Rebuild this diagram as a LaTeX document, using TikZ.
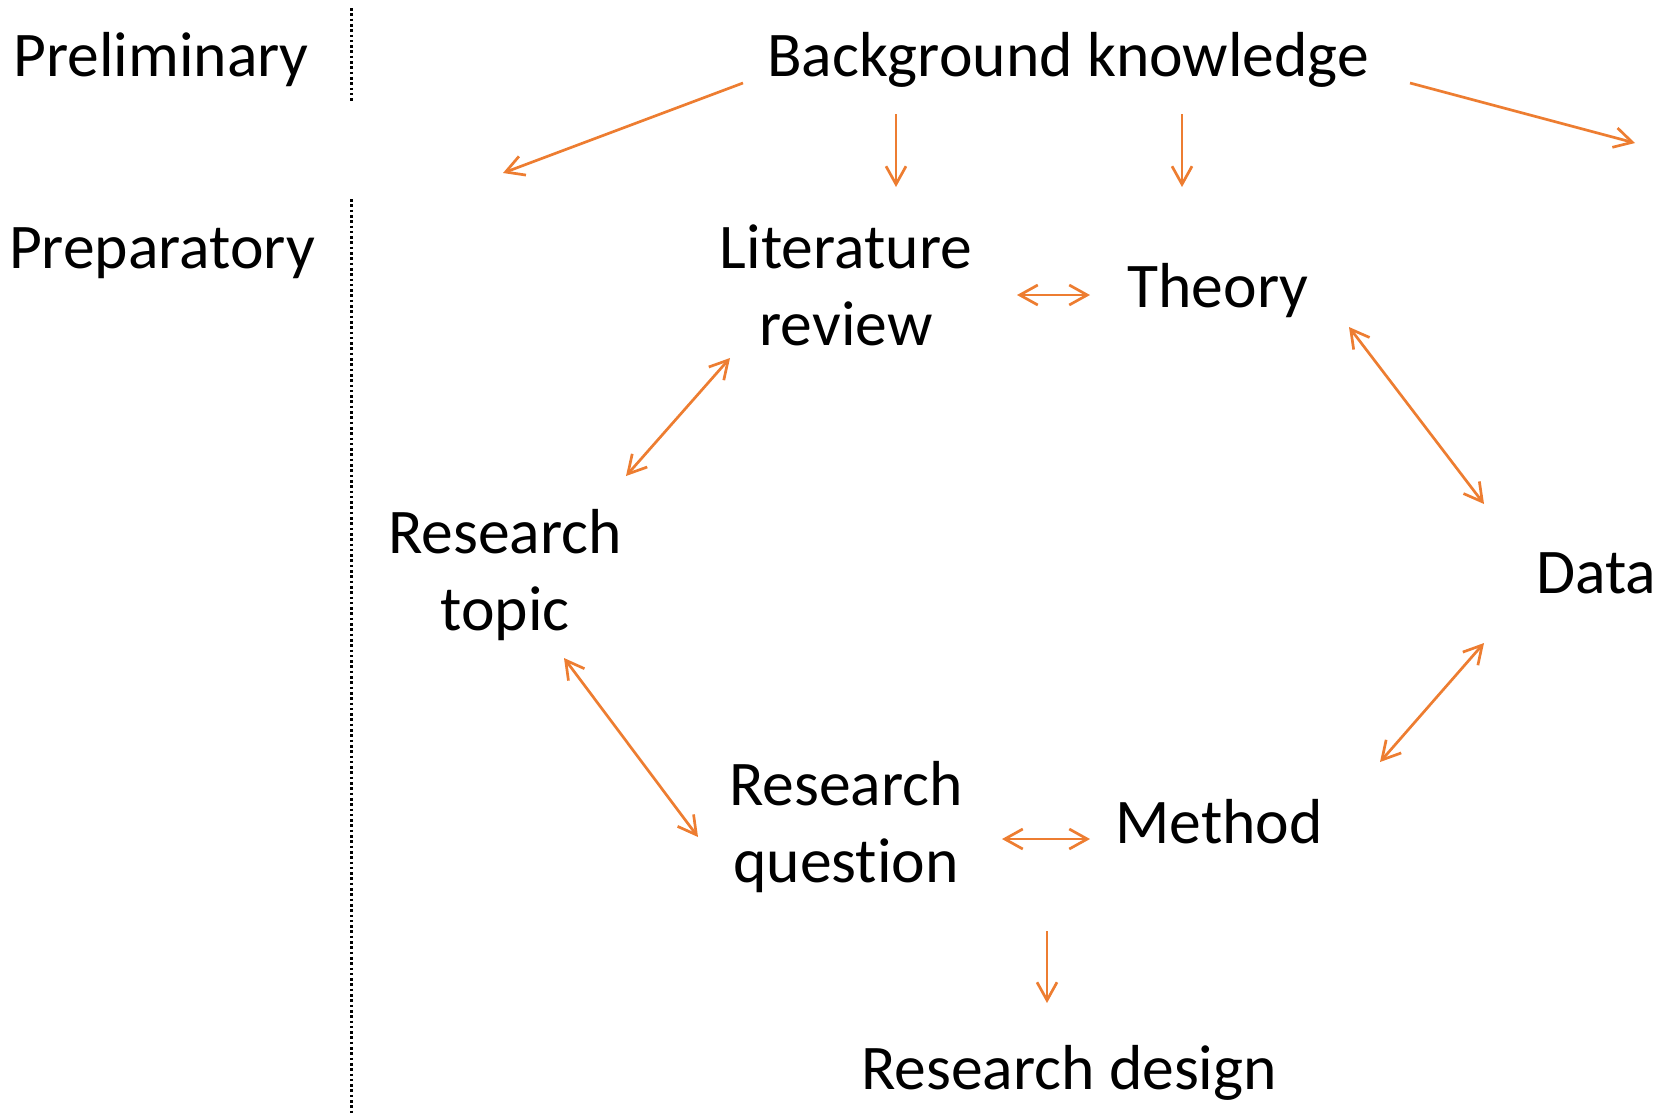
\documentclass[tikz,border=0pt]{standalone}
\usepackage{fontspec}
\setmainfont[Ligatures=NoCommon]{Carlito}
\usetikzlibrary{arrows.meta}
\definecolor{arrorange}{HTML}{ED7D31}
\begin{document}
\begin{tikzpicture}[x=0.5pt,y=-0.5pt,
  lbl/.style={anchor=base,inner sep=0pt,font=\fontsize{31.8}{38.5}\selectfont,align=center},
  conn/.style={draw=arrorange,line width=1.35pt,-{Straight Barb[length=9pt,width=10pt]}},
  bconn/.style={draw=arrorange,line width=1.35pt,{Straight Barb[length=9pt,width=10pt]}-{Straight Barb[length=9pt,width=10pt]}},
  sep/.style={draw=black,line width=1.5pt,dash pattern=on 1.3pt off 1.35pt}]
\useasboundingbox (0,0) rectangle (1668,1116);
% stage labels
\node[lbl] (prelim) at (161,76) {Preliminary};
\node[lbl] (prep) at (162,268) {Preparatory};
% separators
\coordinate (s1a) at (351,8);
\coordinate (s1b) at (351,101);
\coordinate (s2a) at (351,199);
\coordinate (s2b) at (351,1113);
\draw[sep] (s1a) -- (s1b);
\draw[sep] (s2a) -- (s2b);
% nodes (base anchor = baseline of last line)
\node[lbl] (bk) at (1068,76) {Background knowledge};
\node[lbl] (lit) at (846,345) {Literature\\review};
\node[lbl] (theory) at (1218,307) {Theory};
\node[lbl] (topic) at (505,630) {Research\\topic};
\node[lbl] (data) at (1596,593) {Data};
\node[lbl] (question) at (846,882) {Research\\question};
\node[lbl] (method) at (1219,843) {Method};
\node[lbl] (design) at (1069,1089) {Research design};
% arrow endpoints
\coordinate (bkL1) at (743,83);   \coordinate (bkL2) at (503,173);
\coordinate (bkA1) at (896,114);  \coordinate (bkA2) at (896,187);
\coordinate (bkB1) at (1182,114); \coordinate (bkB2) at (1182,187);
\coordinate (bkR1) at (1410,83);  \coordinate (bkR2) at (1635,143);
\coordinate (lt1) at (1017,295);  \coordinate (lt2) at (1090,295);
\coordinate (lr1) at (730,358);   \coordinate (lr2) at (626,476);
\coordinate (td1) at (1349,327);  \coordinate (td2) at (1484,504);
\coordinate (tq1) at (564,658);   \coordinate (tq2) at (698,837);
\coordinate (dm1) at (1484,643);  \coordinate (dm2) at (1380,762);
\coordinate (qm1) at (1002,839);  \coordinate (qm2) at (1090,839);
\coordinate (qd1) at (1047,931);  \coordinate (qd2) at (1047,1003);
% connectors
\draw[conn] (bkL1) -- (bkL2);
\draw[conn] (bkA1) -- (bkA2);
\draw[conn] (bkB1) -- (bkB2);
\draw[conn] (bkR1) -- (bkR2);
\draw[bconn] (lt1) -- (lt2);
\draw[bconn] (lr1) -- (lr2);
\draw[bconn] (td1) -- (td2);
\draw[bconn] (tq1) -- (tq2);
\draw[bconn] (dm1) -- (dm2);
\draw[bconn] (qm1) -- (qm2);
\draw[conn] (qd1) -- (qd2);
\end{tikzpicture}
\end{document}
